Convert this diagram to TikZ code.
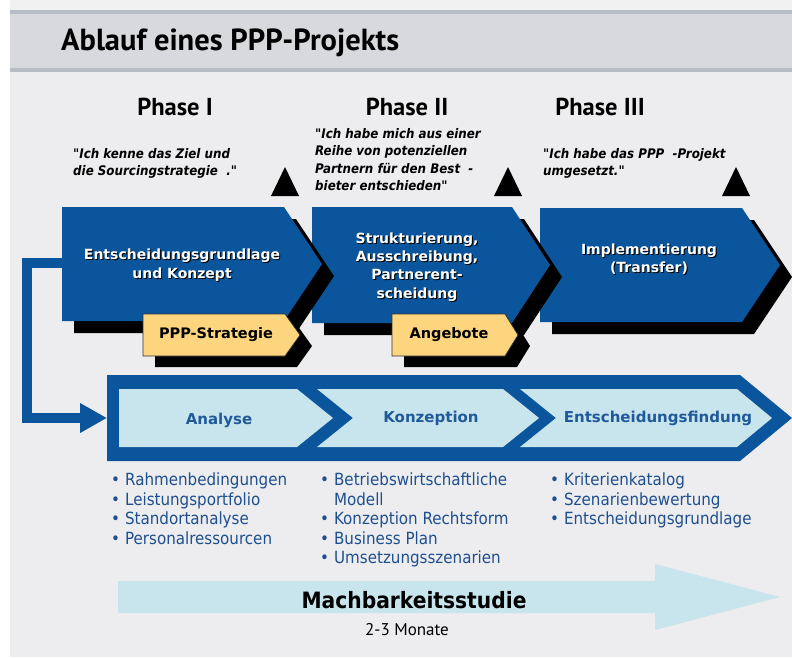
\documentclass[tikz,border=0pt]{standalone}
\usepackage{fontspec}
\setmainfont{DejaVu Sans}
\newfontfamily\titlefont{PT Sans}
\newfontfamily\dvsc{DejaVu Sans Condensed}[BoldFont={DejaVu Sans Condensed Bold},ItalicFont={DejaVu Sans Condensed Oblique},BoldItalicFont={DejaVu Sans Condensed Bold Oblique}]
\usetikzlibrary{arrows.meta}
\definecolor{bg}{HTML}{EDEDEF}
\definecolor{topstrip}{HTML}{F1F1F2}
\definecolor{band}{HTML}{D8D9DC}
\definecolor{bandline}{HTML}{B8BDC5}
\definecolor{dblue}{HTML}{0B559C}
\definecolor{lcyan}{HTML}{C8E4EC}
\definecolor{tagyel}{HTML}{FCD57E}
\definecolor{tblue}{HTML}{1E4F8E}
\definecolor{lblue}{HTML}{1F5A9A}
\begin{document}
\begin{tikzpicture}[x=1pt,y=-1pt,
  chev/.style={fill=dblue},
  shad/.style={fill=black},
  tagbox/.style={fill=tagyel,draw=black!80,line width=0.7pt},
  seg/.style={fill=lcyan},
  conn/.style={draw=dblue,line width=10pt,line join=miter,-{Triangle[length=27pt,width=28pt]}},
  title/.style={inner sep=0pt,anchor=west,font=\titlefont\bfseries\fontsize{30.5}{35}\selectfont},
  phase/.style={inner sep=0pt,font=\titlefont\bfseries\fontsize{24.5}{28}\selectfont},
  quote/.style={inner sep=0pt,anchor=north west,align=left,font=\dvsc\bfseries\itshape\fontsize{13.2}{17.5}\selectfont},
  wtext/.style={inner sep=0pt,align=center,text=white,font=\bfseries\fontsize{14}{18.3}\selectfont},
  btext/.style={inner sep=0pt,align=center,text=black,font=\bfseries\fontsize{14}{18.3}\selectfont},
  tagtext/.style={inner sep=0pt,font=\bfseries\fontsize{14.5}{17}\selectfont},
  seglabel/.style={inner sep=0pt,text=lblue,font=\bfseries\fontsize{15}{18}\selectfont},
  blist/.style={inner sep=0pt,anchor=north west,text=tblue,font=\dvsc\fontsize{16.8}{19.5}\selectfont},
  tri/.style={fill=black}
]
\useasboundingbox (0,0) rectangle (792,657);
% background
\fill[white] (0,0) rectangle (792,657);
\fill[topstrip] (10,0) rectangle (792,10);
\fill[bandline] (10,10) rectangle (792,14);
\fill[band] (10,14) rectangle (792,68);
\fill[bandline] (10,68) rectangle (792,72);
\fill[bg] (10,72) rectangle (792,657);

\node[title] (title) at (61,43) {Ablauf eines PPP-Projekts};

\node[phase] (ph1) at (175,107) {Phase I};
\node[phase] (ph2) at (407,107) {Phase II};
\node[phase] (ph3) at (600,107) {Phase III};

\node[quote] (q1) at (73,148) {"Ich kenne das Ziel und\\die Sourcingstrategie\ \ ."};
\node[quote] (q2) at (315,128) {"Ich habe mich aus einer\\Reihe von potenziellen\\Partnern für den Best\ \ -\\bieter entschieden"};
\node[quote] (q3) at (543,148) {"Ich habe das PPP\ \ -Projekt\\umgesetzt."};

% milestone triangles
\fill[tri] (285,167) -- (299,196) -- (271,196) -- cycle;
\fill[tri] (508,167) -- (522,196) -- (494,196) -- cycle;
\fill[tri] (736,167) -- (750,196) -- (722,196) -- cycle;

% chevron 3
\begin{scope}[shift={(12,12)}]
\fill[shad] (540,208) -- (742,208) -- (780,265) -- (742,322) -- (540,322) -- cycle;
\end{scope}
\fill[chev] (540,208) -- (742,208) -- (780,265) -- (742,322) -- (540,322) -- cycle;
% chevron 2
\begin{scope}[shift={(12,12)}]
\fill[shad] (312,207) -- (512,207) -- (550,265) -- (512,323) -- (312,323) -- cycle;
\end{scope}
\fill[chev] (312,207) -- (512,207) -- (550,265) -- (512,323) -- (312,323) -- cycle;
% tag 2
\begin{scope}[shift={(12,11)}]
\fill[shad] (392,314) -- (505,314) -- (518,335) -- (505,356) -- (392,356) -- cycle;
\end{scope}
\filldraw[tagbox] (392,314) -- (505,314) -- (518,335) -- (505,356) -- (392,356) -- cycle;
% chevron 1
\begin{scope}[shift={(12,12)}]
\fill[shad] (62,207) -- (284,207) -- (322,264) -- (284,321) -- (62,321) -- cycle;
\end{scope}
\fill[chev] (62,207) -- (284,207) -- (322,264) -- (284,321) -- (62,321) -- cycle;
% tag 1
\begin{scope}[shift={(12,11)}]
\fill[shad] (143,314) -- (285,314) -- (300,335) -- (285,356) -- (143,356) -- cycle;
\end{scope}
\filldraw[tagbox] (143,314) -- (285,314) -- (300,335) -- (285,356) -- (143,356) -- cycle;

% chevron texts (white with dark shadow)
\node[btext] (t1s) at (183,266) {Entscheidungsgrundlage\\und Konzept};
\node[wtext] (t1) at (182,265) {Entscheidungsgrundlage\\und Konzept};
\node[btext] (t2s) at (418,268) {Strukturierung,\\Ausschreibung,\\Partnerent-\\scheidung};
\node[wtext] (t2) at (417,267) {Strukturierung,\\Ausschreibung,\\Partnerent-\\scheidung};
\node[btext] (t3s) at (650,260) {Implementierung\\(Transfer)};
\node[wtext] (t3) at (649,259) {Implementierung\\(Transfer)};

\node[tagtext] (tag1) at (216,335) {PPP-Strategie};
\node[tagtext] (tag2) at (449,335) {Angebote};

% big process bar
\fill[dblue] (107,375) -- (740,375) -- (792,418) -- (740,461) -- (107,461) -- cycle;
\fill[seg] (119,389) -- (297,389) -- (333,418) -- (297,447) -- (119,447) -- cycle;
\fill[seg] (317,389) -- (503,389) -- (539,418) -- (503,447) -- (317,447) -- (353,418) -- cycle;
\fill[seg] (520,389) -- (737,389) -- (772,418) -- (737,447) -- (520,447) -- (556,418) -- cycle;

\node[seglabel] (s1) at (219,420) {Analyse};
\node[seglabel] (s2) at (431,418) {Konzeption};
\node[seglabel] (s3) at (658,418) {Entscheidungsfindung};

% connector
\coordinate (c1left) at (62,263);
\coordinate (barleft) at (107,418);
\draw[conn] (c1left) -- ++(-35,0) |- (barleft);

% bullet lists
\node[blist] (l1) at (111,472) {\begin{tabular}{@{}l@{\hspace{5pt}}l@{}}•&Rahmenbedingungen\\•&Leistungsportfolio\\•&Standortanalyse\\•&Personalressourcen\end{tabular}};
\node[blist] (l2) at (320,472) {\begin{tabular}{@{}l@{\hspace{5pt}}l@{}}•&Betriebswirtschaftliche\\&Modell\\•&Konzeption Rechtsform\\•&Business Plan\\•&Umsetzungsszenarien\end{tabular}};
\node[blist] (l3) at (550,472) {\begin{tabular}{@{}l@{\hspace{5pt}}l@{}}•&Kriterienkatalog\\•&Szenarienbewertung\\•&Entscheidungsgrundlage\end{tabular}};

% bottom arrow
\fill[lcyan] (118,581) -- (655,581) -- (655,564) -- (780,597) -- (655,630) -- (655,613) -- (118,613) -- cycle;
\node[inner sep=0pt,font=\dvsc\bfseries\fontsize{22.5}{26}\selectfont] (mach) at (414,600) {Machbarkeitsstudie};
\node[inner sep=0pt,font=\titlefont\fontsize{17}{20}\selectfont] (dauer) at (407,630) {2-3 Monate};
\end{tikzpicture}
\end{document}
